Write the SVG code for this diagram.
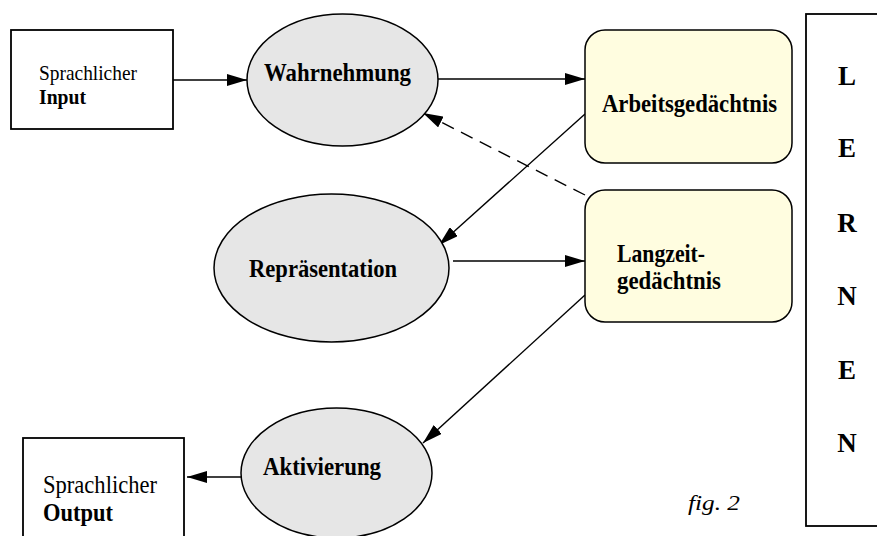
<svg xmlns="http://www.w3.org/2000/svg" width="877" height="536" viewBox="0 0 877 536" font-family="Liberation Serif, serif">
<style>
text{font-family:'Liberation Serif',Tinos,'Times New Roman',serif;fill:#000}
.b{font-weight:bold}
.box{fill:#fff;stroke:#000;stroke-width:1.8}
.ell{fill:#e6e6e6;stroke:#000;stroke-width:1.5}
.mem{fill:#fffde0;stroke:#000;stroke-width:1.5}
.c{fill:none;stroke:#000;stroke-width:1.4}
.d{stroke-dasharray:13 8}
</style>
<defs>
<marker id="ah" viewBox="0 0 20 12" refX="20" refY="6" markerWidth="20" markerHeight="12" markerUnits="userSpaceOnUse" orient="auto">
<path d="M0,0 L20,6 L0,12 Z" fill="#000"/>
</marker>
</defs>
<g id="connectors">
<line class="c" x1="173" y1="80" x2="247" y2="80" marker-end="url(#ah)"/>
<line class="c" x1="438" y1="79" x2="585" y2="79" marker-end="url(#ah)"/>
<line class="c" x1="585" y1="114" x2="439" y2="245" marker-end="url(#ah)"/>
<line class="c d" x1="585" y1="195" x2="423" y2="113" marker-end="url(#ah)"/>
<line class="c" x1="453" y1="261" x2="585" y2="261" marker-end="url(#ah)"/>
<line class="c" x1="585" y1="295" x2="423" y2="443" marker-end="url(#ah)"/>
<line class="c" x1="247" y1="477" x2="187" y2="477" marker-end="url(#ah)"/>
</g>
<g id="input">
<rect class="box" x="11" y="30" width="162" height="99"/>
<text x="39" y="80" font-size="21" textLength="98" lengthAdjust="spacingAndGlyphs">Sprachlicher</text>
<text x="39" y="104" font-size="21" class="b" textLength="47" lengthAdjust="spacingAndGlyphs">Input</text>
</g>
<g id="wahrnehmung">
<ellipse class="ell" cx="342.5" cy="80" rx="95.5" ry="66"/>
<text x="264" y="81" font-size="26" class="b" textLength="147" lengthAdjust="spacingAndGlyphs">Wahrnehmung</text>
</g>
<g id="arbeitsgedaechtnis">
<rect class="mem" x="585" y="30" width="207" height="133" rx="20" ry="20"/>
<text x="602" y="112" font-size="26" class="b" textLength="175" lengthAdjust="spacingAndGlyphs">Arbeitsgedächtnis</text>
</g>
<g id="langzeitgedaechtnis">
<rect class="mem" x="585" y="190" width="207" height="132" rx="20" ry="20"/>
<text x="617" y="262" font-size="25" class="b" textLength="88" lengthAdjust="spacingAndGlyphs">Langzeit-</text>
<text x="617" y="289" font-size="25" class="b" textLength="104" lengthAdjust="spacingAndGlyphs">gedächtnis</text>
</g>
<g id="repraesentation">
<ellipse class="ell" cx="331.5" cy="268" rx="117.5" ry="74"/>
<text x="249" y="277" font-size="26" class="b" textLength="148" lengthAdjust="spacingAndGlyphs">Repräsentation</text>
</g>
<g id="aktivierung">
<ellipse class="ell" cx="336.5" cy="473" rx="95.5" ry="65"/>
<text x="263" y="475" font-size="26" class="b" textLength="118" lengthAdjust="spacingAndGlyphs">Aktivierung</text>
</g>
<g id="output">
<rect class="box" x="23" y="438" width="161" height="110"/>
<text x="43" y="493" font-size="25" textLength="114" lengthAdjust="spacingAndGlyphs">Sprachlicher</text>
<text x="43" y="521" font-size="25" class="b" textLength="70" lengthAdjust="spacingAndGlyphs">Output</text>
</g>
<g id="lernen">
<rect class="box" x="806" y="14" width="80" height="512"/>
<g class="b" font-size="27" text-anchor="middle">
<text x="847" y="85">L</text>
<text x="847" y="157">E</text>
<text x="847" y="232">R</text>
<text x="847" y="305">N</text>
<text x="847" y="379">E</text>
<text x="847" y="452">N</text>
</g>
</g>
<text x="688" y="510" font-size="22" font-style="italic" textLength="52" lengthAdjust="spacingAndGlyphs">fig. 2</text>
</svg>
